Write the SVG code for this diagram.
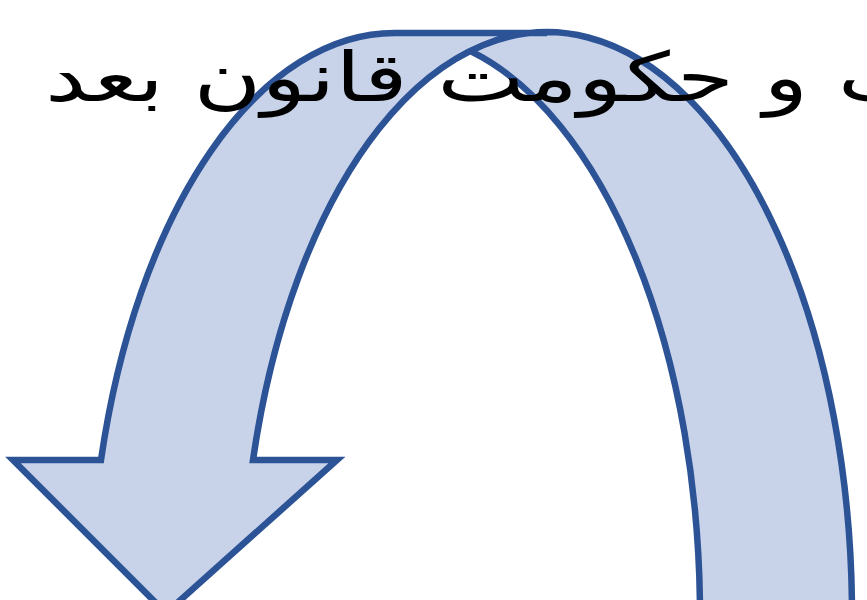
<svg xmlns="http://www.w3.org/2000/svg" width="867" height="600" viewBox="0 0 867 600">
  <style>
    .fill { fill: #c8d3e9; stroke: none; }
    .line { fill: none; stroke: #2c5396; stroke-width: 6.5; stroke-linejoin: miter; stroke-miterlimit: 10; }
    .title { font-family: "DejaVu Sans", sans-serif; font-size: 68px; fill: #000000; }
  </style>
  <rect x="0" y="0" width="867" height="600" fill="#ffffff"/>
  <g id="curved-arrow">
    <!-- back band (right foot) -->
    <path class="fill" d="M 471,51.4 A 305 583 0 0 1 852,616 L 700,616 A 305 583 0 0 0 471,51.4 Z"/>
    <!-- front band with arrowhead -->
    <path class="fill" d="M 13,460 L 101,460 A 305 583 0 0 1 395,33 L 547,33 A 305 583 0 0 0 253,460 L 337,460 L 166,613 Z"/>
    <!-- outline -->
    <path class="line" d="M 852,616 A 305 583 0 0 0 253,460 L 337,460 L 166,613 L 13,460 L 101,460 A 305 583 0 0 1 395,33 L 547,33"/>
    <path class="line" d="M 471,51.4 A 305 583 0 0 1 700,616"/>
  </g>
  <g id="title">
    <text class="title" x="45" y="101" textLength="880" lengthAdjust="spacingAndGlyphs">ت و حکومت قانون بعد</text>
  </g>
</svg>
